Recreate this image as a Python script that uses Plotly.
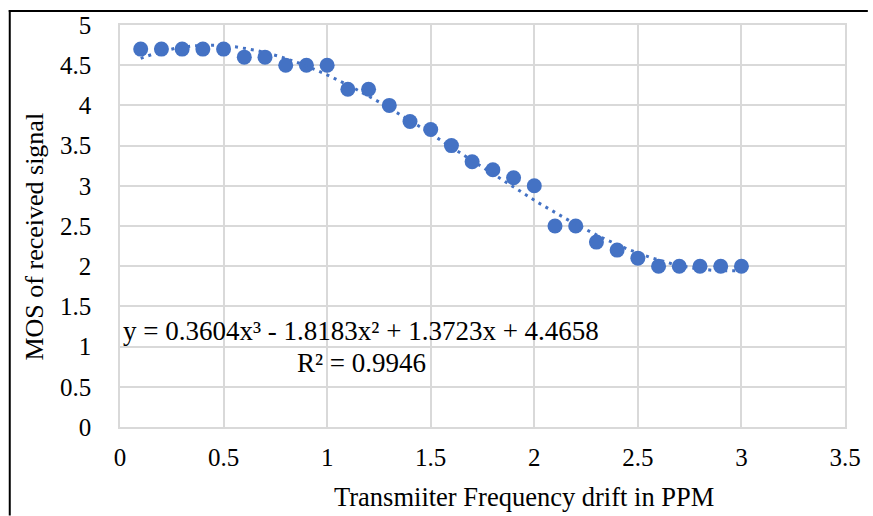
import numpy as np
import plotly.graph_objects as go

drift_ppm = [0.1, 0.2, 0.3, 0.4, 0.5, 0.6, 0.7, 0.8, 0.9, 1.0,
             1.1, 1.2, 1.3, 1.4, 1.5, 1.6, 1.7, 1.8, 1.9, 2.0,
             2.1, 2.2, 2.3, 2.4, 2.5, 2.6, 2.7, 2.8, 2.9, 3.0]
mos = [4.7, 4.7, 4.7, 4.7, 4.7, 4.6, 4.6, 4.5, 4.5, 4.5,
       4.2, 4.2, 4.0, 3.8, 3.7, 3.5, 3.3, 3.2, 3.1, 3.0,
       2.5, 2.5, 2.3, 2.2, 2.1, 2.0, 2.0, 2.0, 2.0, 2.0]
# displayed trendline coefficients (cubic, highest power first)
trend_coef = [0.3604, -1.8183, 1.3723, 4.4658]
eq_text = "y = 0.3604x³ - 1.8183x² + 1.3723x + 4.4658"
r2_text = "R² = 0.9946"
x_title = "Transmiiter Frequency drift in PPM"
y_title = "MOS of received signal"
x_ticks = [0, 0.5, 1, 1.5, 2, 2.5, 3, 3.5]
y_ticks = [0, 0.5, 1, 1.5, 2, 2.5, 3, 3.5, 4, 4.5, 5]

BLUE = "#4472C4"
FONT = "Liberation Serif"

xt = np.linspace(min(drift_ppm), max(drift_ppm), 300)
yt = np.polyval(trend_coef, xt)

fig = go.Figure()
fig.add_trace(go.Scatter(x=drift_ppm, y=mos, mode="markers",
                         marker=dict(color=BLUE, size=15), showlegend=False))
fig.add_trace(go.Scatter(x=xt, y=yt, mode="lines",
                         line=dict(color=BLUE, width=3, dash="3px,5px"),
                         showlegend=False))

L, R, T, B = 120, 23, 23, 89
W, H = 873, 516
pw, ph = W - L - R, H - T - B

tickfont = dict(family=FONT, size=25, color="black")

fig.update_layout(
    width=W, height=H,
    margin=dict(l=L, r=R, t=T, b=B),
    paper_bgcolor="white", plot_bgcolor="white",
    font=dict(family=FONT, size=25, color="black"),
    xaxis=dict(range=[0, 3.5], tickvals=x_ticks, showgrid=True,
               gridcolor="#d9d9d9", gridwidth=1.5, zeroline=False,
               showline=True, linecolor="#d9d9d9", linewidth=1.5, mirror=True,
               ticks="", ticklabelstandoff=7, tickfont=tickfont),
    yaxis=dict(range=[0, 5], tickvals=y_ticks, showgrid=True,
               gridcolor="#d9d9d9", gridwidth=1.5, zeroline=False,
               showline=True, linecolor="#d9d9d9", linewidth=1.5, mirror=True,
               ticks="", ticklabelstandoff=22, tickfont=tickfont),
    annotations=[
        dict(x=1.165, y=1.2, xref="x", yref="y", text=eq_text, showarrow=False,
             font=dict(family=FONT, size=27), xanchor="center", yanchor="middle"),
        dict(x=1.165, y=0.79, xref="x", yref="y", text=r2_text, showarrow=False,
             font=dict(family=FONT, size=27), xanchor="center", yanchor="middle"),
        dict(x=(527 - L) / pw, y=-(497 - T - ph) / ph, xref="paper", yref="paper",
             text=x_title, showarrow=False, font=dict(family=FONT, size=26.5),
             xanchor="center", yanchor="middle"),
        dict(x=-(L - 34) / pw, y=1 - (236 - T) / ph, xref="paper", yref="paper",
             text=y_title, showarrow=False, textangle=-90,
             font=dict(family=FONT, size=26), xanchor="center", yanchor="middle"),
    ],
    shapes=[
        dict(type="line", xref="paper", yref="paper",
             x0=(8 - L) / pw, x1=(W - L) / pw,
             y0=1 + (T - 9) / ph, y1=1 + (T - 9) / ph,
             line=dict(color="black", width=2)),
        dict(type="line", xref="paper", yref="paper",
             x0=(9 - L) / pw, x1=(9 - L) / pw,
             y0=1 + (T - 8) / ph, y1=-(B) / ph,
             line=dict(color="black", width=2)),
    ],
)

fig.write_html("out.html")
